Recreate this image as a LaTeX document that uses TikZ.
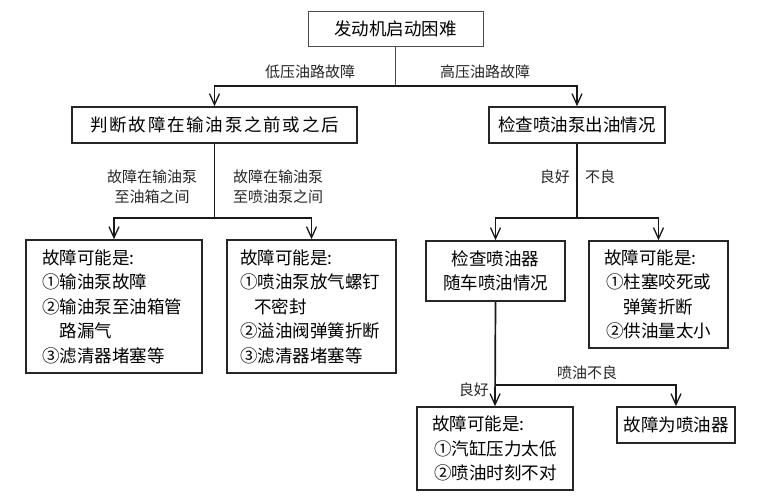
\documentclass[tikz,border=0pt]{standalone}
\usepackage{fontspec}
\setmainfont{Noto Sans CJK SC}
\usetikzlibrary{arrows.meta}
\begin{document}
\begin{tikzpicture}[x=1pt,y=-1pt,
  box/.style={draw=black!85, line width=1.6pt, inner ysep=0pt, inner xsep=0pt,
    font=\fontsize{17.5}{24.5}\selectfont},
  lbox/.style={box, align=left},
  cbox/.style={box, align=center},
  conn/.style={line width=1.7pt, draw=black!90,
    -{Straight Barb[length=11pt,width=10pt,line width=1.3pt]}},
  line/.style={line width=1.7pt, draw=black!90},
  lab/.style={font=\fontsize{15}{20}\selectfont, inner sep=0pt, align=center, text=black!85},
]
\useasboundingbox (0,0) rectangle (762,500);

% nodes
\node[draw=black!70, line width=0.9pt, minimum width=175pt, minimum height=35pt,
  font=\fontsize{17.5}{20}\selectfont, inner sep=0pt] (top) at (395.5,28.5) {发动机启动困难};
\node[cbox, minimum width=285pt, minimum height=36pt] (L1) at (214.5,125)
  {\addfontfeature{LetterSpace=10}判断故障在输油泵之前或之后};
\node[cbox, minimum width=176pt, minimum height=36pt] (R1) at (577,125) {检查喷油泵出油情况};

\node[lbox, inner xsep=16pt, text width=144pt, minimum height=133pt] (B1) at (114,306.5)
  {故障可能是:\\①输油泵故障\\②输油泵至油箱管\\\hspace*{1em}路漏气\\③滤清器堵塞等};
\node[lbox, inner xsep=13pt, text width=143pt, minimum height=133pt] (B2) at (311.5,306.5)
  {故障可能是:\\①喷油泵放气螺钉\\\hspace*{0.8em}不密封\\②溢油阀弹簧折断\\③滤清器堵塞等};
\node[cbox, minimum width=139pt, minimum height=60pt] (B3) at (495.5,271)
  {检查喷油器\\随车喷油情况};
\node[lbox, inner xsep=15pt, text width=109pt, minimum height=107pt] (B4) at (658.5,294.5)
  {故障可能是:\\\hspace*{2pt}①柱塞咬死或\\\hspace*{1.1em}弹簧折断\\\hspace*{2pt}②供油量太小};
\node[lbox, inner xsep=15pt, text width=126pt, minimum height=83pt] (B5) at (495,448.5)
  {故障可能是:\\\hspace*{2pt}①汽缸压力太低\\\hspace*{2pt}②喷油时刻不对};
\node[cbox, minimum width=118pt, minimum height=36pt] (B6) at (676,425) {故障为喷油器};

% junctions
\coordinate (j0) at (395.5,86);
\coordinate (j1) at (214.5,218);
\coordinate (j2) at (577,218);
\coordinate (j3) at (495.5,385);

% connectors
\draw[line width=0.9pt, draw=black!70] (top.south) -- (j0);
\draw[conn] (j0) -| (L1.north);
\draw[conn] (j0) -| (R1.north);
\draw[line] (L1.south) -- (j1);
\draw[conn] (j1) -| (B1.north);
\draw[conn] (j1) -| (B2.north);
\draw[line] (R1.south) -- (j2);
\draw[conn] (j2) -| (B3.north);
\draw[conn] (j2) -| (B4.north);
\draw[conn] (B3.south) -- (B5.north);
\draw[conn] (j3) -| (B6.north);

% labels
\node[lab] (t1) at (310,72) {低压油路故障};
\node[lab] (t2) at (485,72) {高压油路故障};
\node[lab] (t3) at (152,187) {故障在输油泵\\至油箱之间};
\node[lab] (t4) at (278,187) {故障在输油泵\\至喷油泵之间};
\node[lab, anchor=east] (t5) at (570,177) {良好};
\node[lab, anchor=west] (t6) at (585,177) {不良};
\node[lab, anchor=east] (t7) at (489,390) {良好};
\node[lab] (t8) at (587,373) {喷油不良};
\end{tikzpicture}
\end{document}
